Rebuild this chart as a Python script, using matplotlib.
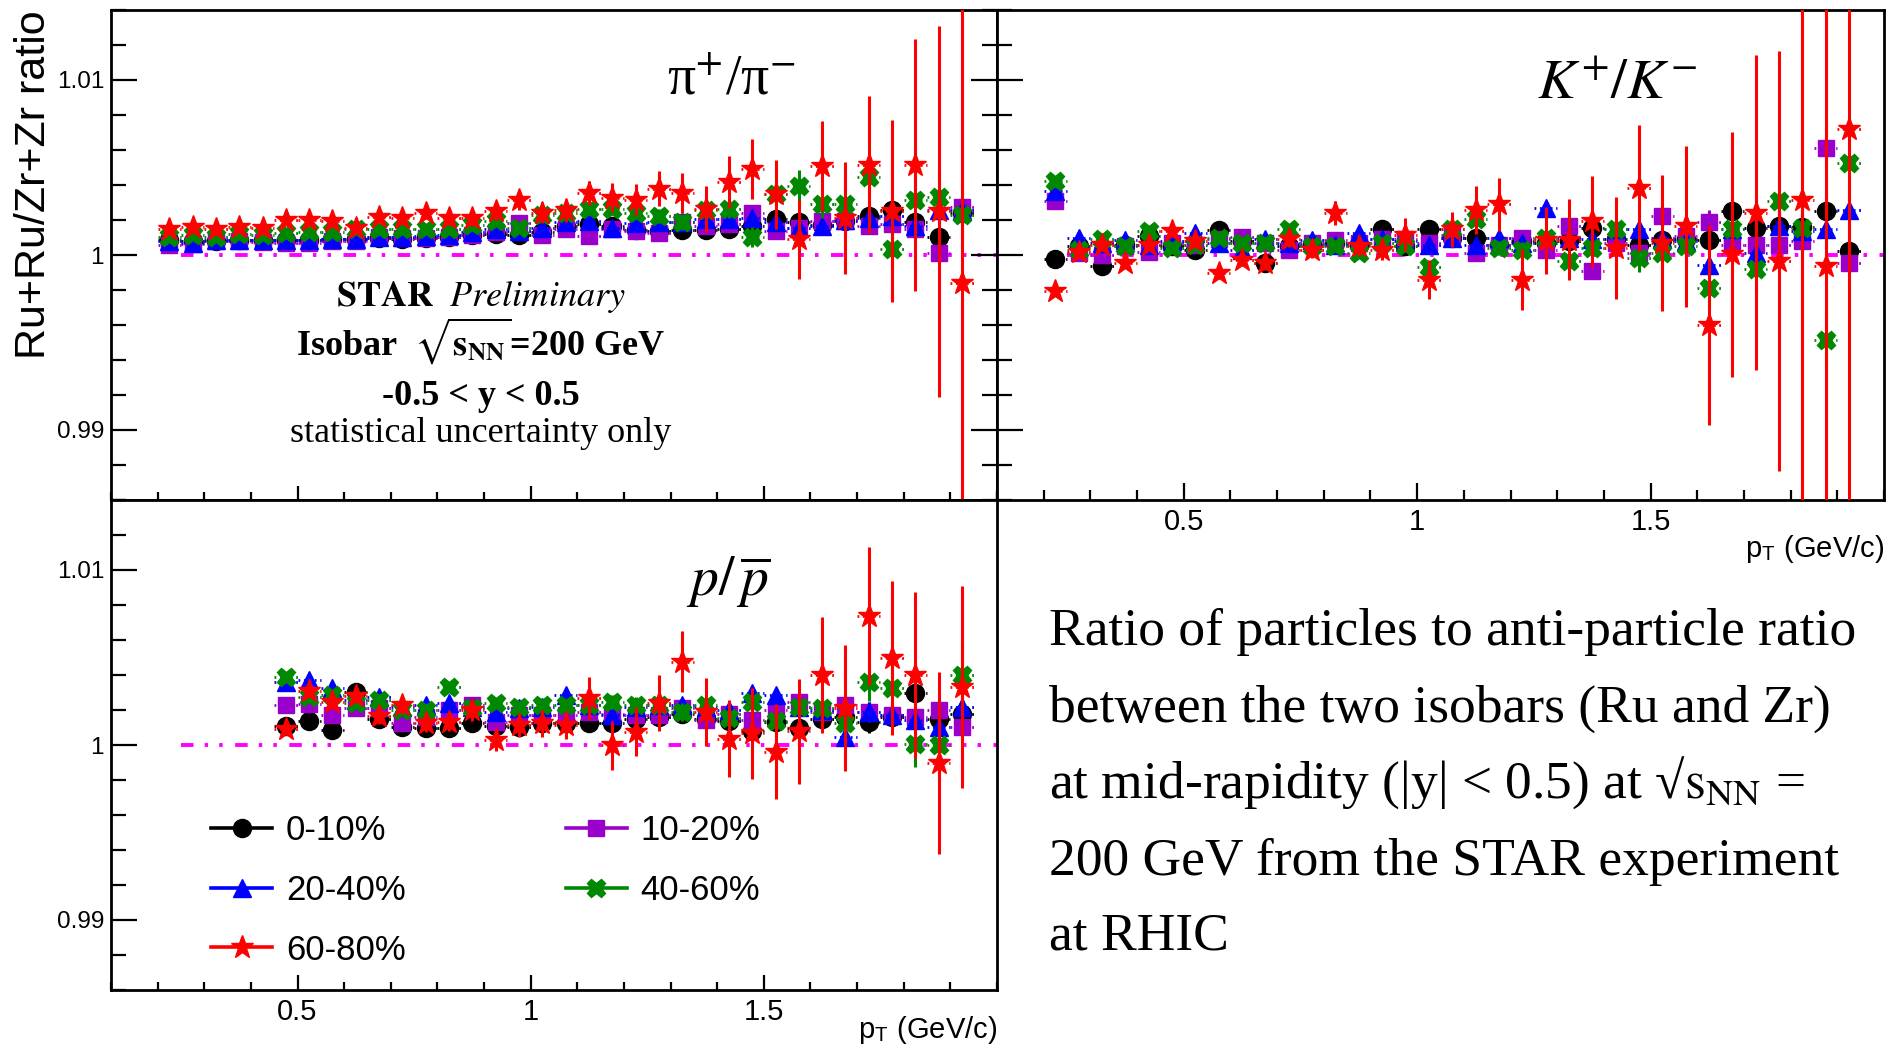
import numpy as np
import matplotlib
matplotlib.use("Agg")
import matplotlib.pyplot as plt
from matplotlib.lines import Line2D
from matplotlib.ticker import MultipleLocator

plt.rcParams["font.family"] = ["Liberation Sans", "DejaVu Sans"]
plt.rcParams["mathtext.fontset"] = "stix"
plt.rcParams["lines.scale_dashes"] = False

SERIF = ["Liberation Serif", "DejaVu Serif"]

# centrality classes
cent_labels = ["0-10%", "10-20%", "20-40%", "40-60%", "60-80%"]
cent_colors = ["black", "#9900cc", "#0000ff", "#008800", "#ff0000"]
cent_markers = ["o", "s", "^", "X", "*"]
cent_sizes = [13, 12, 13, 13, 17]

xtick_vals = [0.5, 1.0, 1.5]
xtick_labels = ["0.5", "1", "1.5"]
ytick_vals = [0.99, 1.0, 1.01]
ytick_labels = ["0.99", "1", "1.01"]

# pT bin centres (GeV/c)
pt_pik = [0.225, 0.275, 0.325, 0.375, 0.425, 0.475, 0.525, 0.575, 0.625, 0.675,
          0.725, 0.775, 0.825, 0.875, 0.925, 0.975, 1.025, 1.075, 1.125, 1.175,
          1.225, 1.275, 1.325, 1.375, 1.425, 1.475, 1.525, 1.575, 1.625, 1.675,
          1.725, 1.775, 1.825, 1.875, 1.925]
pt_p = [0.475, 0.525, 0.575, 0.625, 0.675, 0.725, 0.775, 0.825, 0.875, 0.925,
        0.975, 1.025, 1.075, 1.125, 1.175, 1.225, 1.275, 1.325, 1.375, 1.425,
        1.475, 1.525, 1.575, 1.625, 1.675, 1.725, 1.775, 1.825, 1.875, 1.925]

# ---- pi+/pi- ----
pi_0_10 = [1.00084, 1.00079, 1.00079, 1.00084, 1.00084, 1.00088, 1.00084, 1.00089, 1.00093, 1.00098,
           1.00093, 1.00098, 1.00104, 1.00112, 1.00122, 1.00117, 1.00131, 1.00165, 1.00180, 1.00165,
           1.00145, 1.00136, 1.00145, 1.00145, 1.00150, 1.00165, 1.00203, 1.00188, 1.00174, 1.00193,
           1.00222, 1.00256, 1.00188, 1.00104, 1.00241]
pi_10_20 = [1.00060, 1.00065, 1.00079, 1.00079, 1.00074, 1.00069, 1.00069, 1.00079, 1.00079, 1.00104,
            1.00098, 1.00098, 1.00104, 1.00112, 1.00130, 1.00184, 1.00117, 1.00150, 1.00108, 1.00150,
            1.00136, 1.00127, 1.00188, 1.00165, 1.00180, 1.00241, 1.00136, 1.00155, 1.00193, 1.00193,
            1.00165, 1.00180, 1.00150, 1.00009, 1.00275]
pi_20_40 = [1.00079, 1.00069, 1.00088, 1.00088, 1.00084, 1.00084, 1.00088, 1.00093, 1.00093, 1.00104,
            1.00104, 1.00108, 1.00117, 1.00131, 1.00146, 1.00136, 1.00155, 1.00188, 1.00193, 1.00155,
            1.00184, 1.00188, 1.00188, 1.00203, 1.00203, 1.00212, 1.00188, 1.00155, 1.00165, 1.00200,
            1.00212, 1.00222, 1.00165, 1.00260, 1.00260]
pi_40_60 = [1.00104, 1.00112, 1.00104, 1.00118, 1.00112, 1.00127, 1.00131, 1.00131, 1.00146, 1.00150,
            1.00146, 1.00146, 1.00150, 1.00169, 1.00193, 1.00155, 1.00231, 1.00241, 1.00264, 1.00264,
            1.00241, 1.00222, 1.00188, 1.00260, 1.00264, 1.00104, 1.00346, 1.00393, 1.00294, 1.00294,
            1.00446, 1.00035, 1.00317, 1.00333, 1.00226]
pi_60_80 = [1.00146, 1.00161, 1.00146, 1.00161, 1.00155, 1.00199, 1.00199, 1.00193, 1.00155, 1.00220,
            1.00212, 1.00241, 1.00212, 1.00212, 1.00250, 1.00313, 1.00241, 1.00256, 1.00355, 1.00327,
            1.00317, 1.00378, 1.00355, 1.00264, 1.00416, 1.00493, 1.00346, 1.00089, 1.00508, 1.00212,
            1.00517, 1.00250, 1.00513, 1.00250, 0.99841]
pi_err_central = [0.00005, 0.00005, 0.00005, 0.00005, 0.00005, 0.00006, 0.00006, 0.00006, 0.00007, 0.00007,
                  0.00008, 0.00008, 0.00009, 0.00010, 0.00010, 0.00011, 0.00012, 0.00013, 0.00014, 0.00015,
                  0.00017, 0.00018, 0.00020, 0.00022, 0.00024, 0.00026, 0.00028, 0.00031, 0.00034, 0.00038,
                  0.00042, 0.00047, 0.00052, 0.00058, 0.00065]
pi_err_40_60 = [0.00010, 0.00010, 0.00010, 0.00010, 0.00010, 0.00012, 0.00012, 0.00012, 0.00015, 0.00015,
                0.00015, 0.00018, 0.00018, 0.00020, 0.00020, 0.00022, 0.00025, 0.00028, 0.00030, 0.00033,
                0.00036, 0.00040, 0.00044, 0.00048, 0.00052, 0.00058, 0.00064, 0.00095, 0.00080, 0.00090,
                0.00100, 0.00110, 0.00130, 0.00150, 0.00180]
pi_err_60_80 = [0.00020, 0.00020, 0.00020, 0.00020, 0.00020, 0.00025, 0.00025, 0.00025, 0.00030, 0.00030,
                0.00035, 0.00035, 0.00040, 0.00045, 0.00050, 0.00055, 0.00060, 0.00065, 0.00067, 0.00082,
                0.00090, 0.00100, 0.00114, 0.00130, 0.00149, 0.00171, 0.00195, 0.00225, 0.00257, 0.00320,
                0.00390, 0.00520, 0.00720, 0.01060, 0.01700]

# ---- K+/K- ----
k_0_10 = [0.99978, 1.00050, 0.99940, 1.00060, 1.00110, 1.00050, 1.00031, 1.00142, 1.00080, 0.99955,
          1.00050, 1.00060, 1.00070, 1.00060, 1.00146, 1.00050, 1.00146, 1.00100, 1.00098, 1.00060,
          1.00080, 1.00070, 1.00079, 1.00155, 1.00090, 1.00060, 1.00088, 1.00090, 1.00088, 1.00250,
          1.00155, 1.00165, 1.00160, 1.00250, 1.00022]
k_10_20 = [1.00307, 1.00010, 1.00000, 1.00050, 1.00020, 1.00069, 1.00060, 1.00090, 1.00104, 1.00070,
           1.00031, 1.00069, 1.00088, 1.00070, 1.00090, 1.00090, 1.00070, 1.00117, 1.00012, 1.00060,
           1.00098, 1.00030, 1.00165, 0.99907, 1.00069, 1.00012, 1.00222, 1.00110, 1.00188, 1.00060,
           1.00055, 1.00060, 1.00079, 1.00612, 0.99955]
k_20_40 = [1.00365, 1.00098, 1.00070, 1.00088, 1.00060, 1.00080, 1.00127, 1.00069, 1.00031, 1.00090,
           1.00070, 1.00088, 1.00060, 1.00127, 1.00090, 1.00080, 1.00060, 1.00100, 1.00060, 1.00098,
           1.00070, 1.00270, 1.00100, 1.00090, 1.00146, 1.00146, 1.00100, 1.00080, 0.99945, 1.00150,
           1.00012, 1.00165, 1.00140, 1.00146, 1.00260]
k_40_60 = [1.00422, 1.00030, 1.00090, 1.00050, 1.00137, 1.00040, 1.00060, 1.00098, 1.00069, 1.00069,
           1.00146, 1.00050, 1.00050, 1.00012, 1.00070, 1.00050, 0.99931, 1.00146, 1.00203, 1.00041,
           1.00030, 1.00100, 0.99964, 1.00041, 1.00146, 0.99983, 1.00010, 1.00050, 0.99812, 1.00146,
           0.99921, 1.00308, 1.00155, 0.99517, 1.00526]
k_60_80 = [0.99793, 1.00020, 1.00060, 0.99955, 1.00060, 1.00137, 1.00080, 0.99898, 0.99974, 0.99955,
           1.00093, 1.00031, 1.00241, 1.00050, 1.00031, 1.00117, 0.99860, 1.00146, 1.00256, 1.00289,
           0.99860, 1.00084, 1.00088, 1.00193, 1.00041, 1.00384, 1.00069, 1.00165, 0.99600, 1.00003,
           1.00241, 0.99964, 1.00317, 0.99936, 1.00721]
k_err_central = [0.00010, 0.00010, 0.00010, 0.00010, 0.00011, 0.00011, 0.00012, 0.00012, 0.00013, 0.00014,
                 0.00015, 0.00016, 0.00017, 0.00018, 0.00020, 0.00022, 0.00024, 0.00026, 0.00028, 0.00030,
                 0.00033, 0.00036, 0.00040, 0.00044, 0.00048, 0.00053, 0.00058, 0.00064, 0.00070, 0.00077,
                 0.00085, 0.00093, 0.00100, 0.00110, 0.00120]
k_err_40_60 = [0.00015, 0.00015, 0.00015, 0.00015, 0.00015, 0.00016, 0.00016, 0.00017, 0.00018, 0.00019,
               0.00020, 0.00021, 0.00022, 0.00024, 0.00026, 0.00028, 0.00030, 0.00033, 0.00036, 0.00040,
               0.00044, 0.00048, 0.00053, 0.00058, 0.00064, 0.00080, 0.00090, 0.00100, 0.00110, 0.00120,
               0.00130, 0.00140, 0.00150, 0.00160, 0.00180]
k_err_60_80 = [0.00025, 0.00025, 0.00025, 0.00025, 0.00030, 0.00030, 0.00030, 0.00035, 0.00035, 0.00040,
               0.00045, 0.00050, 0.00067, 0.00055, 0.00060, 0.00095, 0.00110, 0.00100, 0.00137, 0.00152,
               0.00175, 0.00190, 0.00230, 0.00260, 0.00290, 0.00360, 0.00390, 0.00460, 0.00570, 0.00700,
               0.00900, 0.01200, 0.02000, 0.02200, 0.02500]

# ---- p/pbar ----
p_0_10 = [1.00109, 1.00137, 1.00085, 1.00303, 1.00150, 1.00104, 1.00095, 1.00095, 1.00123, 1.00110,
          1.00104, 1.00123, 1.00123, 1.00123, 1.00123, 1.00150, 1.00160, 1.00180, 1.00150, 1.00140,
          1.00079, 1.00130, 1.00095, 1.00150, 1.00160, 1.00129, 1.00160, 1.00295, 1.00150, 1.00176]
p_10_20 = [1.00226, 1.00237, 1.00171, 1.00210, 1.00210, 1.00123, 1.00160, 1.00200, 1.00228, 1.00133,
           1.00170, 1.00171, 1.00171, 1.00190, 1.00180, 1.00171, 1.00171, 1.00210, 1.00143, 1.00180,
           1.00143, 1.00200, 1.00247, 1.00190, 1.00228, 1.00190, 1.00171, 1.00160, 1.00200, 1.00105]
p_20_40 = [1.00360, 1.00370, 1.00323, 1.00260, 1.00276, 1.00220, 1.00228, 1.00238, 1.00220, 1.00190,
           1.00210, 1.00220, 1.00285, 1.00230, 1.00171, 1.00220, 1.00230, 1.00228, 1.00220, 1.00200,
           1.00295, 1.00285, 1.00220, 1.00200, 1.00047, 1.00190, 1.00171, 1.00143, 1.00105, 1.00219]
p_40_60 = [1.00386, 1.00274, 1.00285, 1.00238, 1.00257, 1.00200, 1.00199, 1.00333, 1.00210, 1.00238,
           1.00219, 1.00228, 1.00228, 1.00228, 1.00247, 1.00228, 1.00228, 1.00190, 1.00228, 1.00152,
           1.00247, 1.00137, 1.00220, 1.00209, 1.00124, 1.00362, 1.00323, 1.00008, 0.99999, 1.00398]
p_60_80 = [1.00094, 1.00310, 1.00247, 1.00282, 1.00167, 1.00228, 1.00123, 1.00133, 1.00199, 1.00028,
           1.00113, 1.00123, 1.00113, 1.00270, 1.00000, 1.00076, 1.00238, 1.00475, 1.00190, 1.00037,
           1.00066, 0.99962, 1.00080, 1.00400, 1.00210, 1.00738, 1.00497, 1.00398, 0.99895, 1.00331]
p_err_central = [0.00012, 0.00012, 0.00012, 0.00012, 0.00013, 0.00013, 0.00014, 0.00014, 0.00015, 0.00016,
                 0.00017, 0.00018, 0.00019, 0.00020, 0.00022, 0.00024, 0.00026, 0.00028, 0.00030, 0.00033,
                 0.00036, 0.00040, 0.00044, 0.00048, 0.00053, 0.00058, 0.00064, 0.00070, 0.00077, 0.00085]
p_err_40_60 = [0.00020, 0.00020, 0.00020, 0.00020, 0.00022, 0.00022, 0.00024, 0.00024, 0.00026, 0.00028,
               0.00030, 0.00032, 0.00034, 0.00036, 0.00040, 0.00044, 0.00048, 0.00052, 0.00056, 0.00062,
               0.00068, 0.00074, 0.00080, 0.00090, 0.00100, 0.00110, 0.00120, 0.00135, 0.00175, 0.00190]
p_err_60_80 = [0.00030, 0.00035, 0.00040, 0.00040, 0.00045, 0.00050, 0.00050, 0.00055, 0.00060, 0.00065,
               0.00070, 0.00075, 0.00080, 0.00120, 0.00140, 0.00140, 0.00160, 0.00175, 0.00195, 0.00220,
               0.00260, 0.00270, 0.00300, 0.00330, 0.00360, 0.00395, 0.00440, 0.00475, 0.00520, 0.00575]


def draw_panel(ax, pt, series, errors):
    pt = np.asarray(pt)
    ax.plot([0.25, 2.0], [1.0, 1.0], color="#ff00ff", lw=2.8,
            ls=(0, (9, 8, 2.5, 8, 2.5, 9)), zorder=1)
    for k, (vals, errs) in enumerate(zip(series, errors)):
        c = cent_colors[k]
        z = 3 + k
        ax.hlines(vals, pt - 0.025, pt + 0.025, colors=c, lw=2.0,
                  linestyles=(0, (1.3, 2.6)), zorder=z)
        ax.errorbar(pt, vals, yerr=errs, fmt=cent_markers[k], color=c, mec=c,
                    ms=cent_sizes[k], elinewidth=2.2, capsize=0, zorder=z)


def style_axes(ax, ylab=True, xlab=True, right=False, xlen=10):
    ax.set_xlim(0.1, 2.0)
    ax.set_ylim(0.986, 1.014)
    ax.set_xticks(xtick_vals)
    ax.set_xticklabels(xtick_labels)
    ax.set_yticks(ytick_vals)
    ax.set_yticklabels(ytick_labels)
    ax.xaxis.set_minor_locator(MultipleLocator(0.1))
    ax.yaxis.set_minor_locator(MultipleLocator(0.002))
    ax.tick_params(axis="y", which="both", direction="in", left=True, right=right,
                   labelleft=ylab, labelright=False, width=1.6, labelsize=17.5, pad=5)
    ax.tick_params(axis="y", which="major", length=19)
    ax.tick_params(axis="y", which="minor", length=10.5)
    ax.tick_params(axis="x", which="both", direction="in", bottom=True, top=False,
                   labelbottom=xlab, width=1.6, labelsize=21, pad=5.5)
    ax.tick_params(axis="x", which="major", length=xlen)
    ax.tick_params(axis="x", which="minor", length=xlen * 0.55)
    for s in ax.spines.values():
        s.set_linewidth(2.0)


fig = plt.figure(figsize=(18.95, 10.55), dpi=100)
W, H = 1895.0, 1055.0
ax_pi = fig.add_axes([111 / W, 1 - 500 / H, 886 / W, 490 / H])
ax_k = fig.add_axes([997 / W, 1 - 500 / H, 887 / W, 490 / H])
ax_p = fig.add_axes([111 / W, 1 - 990 / H, 886 / W, 490 / H])

draw_panel(ax_pi, pt_pik, [pi_0_10, pi_10_20, pi_20_40, pi_40_60, pi_60_80],
           [pi_err_central, pi_err_central, pi_err_central, pi_err_40_60, pi_err_60_80])
draw_panel(ax_k, pt_pik, [k_0_10, k_10_20, k_20_40, k_40_60, k_60_80],
           [k_err_central, k_err_central, k_err_central, k_err_40_60, k_err_60_80])
draw_panel(ax_p, pt_p, [p_0_10, p_10_20, p_20_40, p_40_60, p_60_80],
           [p_err_central, p_err_central, p_err_central, p_err_40_60, p_err_60_80])

style_axes(ax_pi, ylab=True, xlab=False, right=True, xlen=10)
style_axes(ax_k, ylab=False, xlab=True, right=False, xlen=12.5)
style_axes(ax_p, ylab=True, xlab=True, right=False, xlen=10.5)

# particle labels
ax_pi.text(0.700, 0.857, r"π$^{+}$/π$^{-}$", fontsize=40, family=SERIF,
           ha="center", va="center", transform=ax_pi.transAxes)
ax_k.text(0.699, 0.849, r"$K^{+}/K^{-}$", fontsize=41, ha="center", va="center",
          transform=ax_k.transAxes)
ax_p.text(0.696, 0.833, r"$p/\,\overline{p}$", fontsize=40, ha="center", va="center",
          transform=ax_p.transAxes)

# STAR block
ax_pi.text(0.4176, 0.396, r"$\mathbf{STAR}\ \ \mathit{Preliminary}$", fontsize=26,
           ha="center", va="baseline", transform=ax_pi.transAxes)
ax_pi.text(0.4176, 0.296, r"Isobar  $\sqrt{\mathbf{s}_{\mathbf{NN}}}$=200 GeV", fontsize=26,
           family=SERIF, fontweight="bold", ha="center", va="baseline",
           transform=ax_pi.transAxes)
ax_pi.text(0.4176, 0.194, "-0.5 < y < 0.5", fontsize=26, family=SERIF, fontweight="bold",
           ha="center", va="baseline", transform=ax_pi.transAxes)
ax_pi.text(0.4176, 0.118, "statistical uncertainty only", fontsize=26, family=SERIF,
           ha="center", va="baseline", transform=ax_pi.transAxes)

# axis titles
fig.text(34 / W, 1 - 10 / H, "Ru+Ru/Zr+Zr ratio", rotation=90, fontsize=31,
         ha="center", va="top")
ax_k.text(1.0, -0.117, r"p$_{\mathregular{T}}$ (GeV/c)", fontsize=21, ha="right",
          va="baseline", transform=ax_k.transAxes)
ax_p.text(1.0, -0.098, r"p$_{\mathregular{T}}$ (GeV/c)", fontsize=21, ha="right",
          va="baseline", transform=ax_p.transAxes)

# legend
order = [0, 2, 4, 1, 3]
handles = [Line2D([], [], color=cent_colors[k], marker=cent_markers[k],
                  ms=cent_sizes[k], lw=2.6) for k in order]
ax_p.legend(handles, [cent_labels[k] for k in order], ncol=2, numpoints=1,
            loc="upper left", bbox_to_anchor=(0.1129, 0.359), frameon=False,
            fontsize=25, handlelength=1.76, handletextpad=0.4, columnspacing=4.6,
            labelspacing=0.77, borderpad=0, borderaxespad=0)

# caption on the right
caption = ["Ratio of particles to anti-particle ratio",
           "between the two isobars (Ru and Zr)",
           r"at mid-rapidity (|y| < 0.5) at √$\mathrm{s}_{\mathrm{NN}}$ =",
           "200 GeV from the STAR experiment",
           "at RHIC"]
caption_base = [645, 722, 798, 875, 950]
for line, yb in zip(caption, caption_base):
    fig.text(1049 / W, 1 - yb / H, line, fontsize=38.5, family=SERIF,
             ha="left", va="baseline")

fig.savefig("out.png", dpi=100, facecolor="white")
